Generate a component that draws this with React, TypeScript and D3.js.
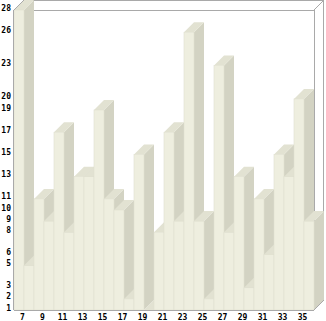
import React from "react";
import * as d3 from "d3";

const categories = [7,8,9,10,11,12,13,14,15,16,17,18,19,20,21,22,23,24,25,26,27,28,29,30,31,32,33,34,35,36];
const values = [28,5,11,9,17,8,13,13,19,11,10,2,15,1,8,17,9,26,9,2,23,8,13,3,11,6,15,13,20,9];
const yTickValues = Array.from(new Set(values)).sort((a, b) => a - b);
const xTickLabels = categories.filter((c) => c % 2 === 1);

const W = 326, H = 321;
const left = 14, right = 314, top = 10, bottom = 310, depth = 10;

export default function App() {
  const x = d3.scaleBand<number>().domain(categories).range([left, right]).padding(0);
  const y = d3.scaleLinear().domain([1, 28]).range([bottom, top]);
  const bw = x.bandwidth();

  const front = "#eeeedf";
  const side = "#d3d3c3";
  const topC = "#e2e2d2";
  const sep = "#dfdfcf";
  const frame = "#a9a9a9";

  return (
    <svg width={W} height={H} style={{ position: "absolute", left: 0, top: 0, background: "#fff" }}
      shapeRendering="crispEdges">
      {/* box frame */}
      <g stroke={frame} strokeWidth={1} fill="none">
        <line x1={left + depth} y1={top - depth + 0.5} x2={right + depth} y2={top - depth + 0.5} />
        <line x1={left} y1={top + 0.5} x2={right} y2={top + 0.5} />
        <line x1={right + 0.5} y1={top} x2={right + 0.5} y2={bottom} />
        <line x1={right + depth - 0.5} y1={top - depth} x2={right + depth - 0.5} y2={bottom - depth} />
        <line x1={right} y1={top} x2={right + depth} y2={top - depth} shapeRendering="auto" />
      </g>
      {/* bars */}
      {values.map((v, i) => {
        const c = categories[i];
        const x0 = x(c)!;
        const yt = y(v);
        return (
          <g key={c} shapeRendering="auto">
            <polygon points={`${x0 + bw},${yt} ${x0 + bw + depth},${yt - depth} ${x0 + bw + depth},${bottom - depth} ${x0 + bw},${bottom}`} fill={side} />
            <polygon points={`${x0},${yt} ${x0 + bw},${yt} ${x0 + bw + depth},${yt - depth} ${x0 + depth},${yt - depth}`} fill={topC} />
            {bottom - yt > 0 && (
              <rect x={x0} y={yt} width={bw} height={bottom - yt} fill={front} stroke={sep} strokeWidth={0.6} />
            )}
          </g>
        );
      })}
      {/* axes and front diagonals */}
      <g stroke={frame} strokeWidth={1}>
        <line x1={left - 0.5} y1={top} x2={left - 0.5} y2={bottom} />
        <line x1={left} y1={bottom + 0.5} x2={right} y2={bottom + 0.5} />
        <line x1={left} y1={top} x2={left + depth} y2={top - depth} shapeRendering="auto" />
        <line x1={right} y1={bottom} x2={right + depth} y2={bottom - depth} shapeRendering="auto" />
      </g>
      {/* labels */}
      <g fontFamily="DejaVu Sans Mono" fontSize={8} fontWeight="bold" fill="#000">
        {yTickValues.map((t) => (
          <text key={t} x={11} y={y(t) - 2} textAnchor="end" dominantBaseline="middle">{t}</text>
        ))}
        {xTickLabels.map((c) => (
          <text key={c} x={x(c)! + bw / 2 + 3.5} y={317} textAnchor="middle" dominantBaseline="middle">{c}</text>
        ))}
      </g>
    </svg>
  );
}
